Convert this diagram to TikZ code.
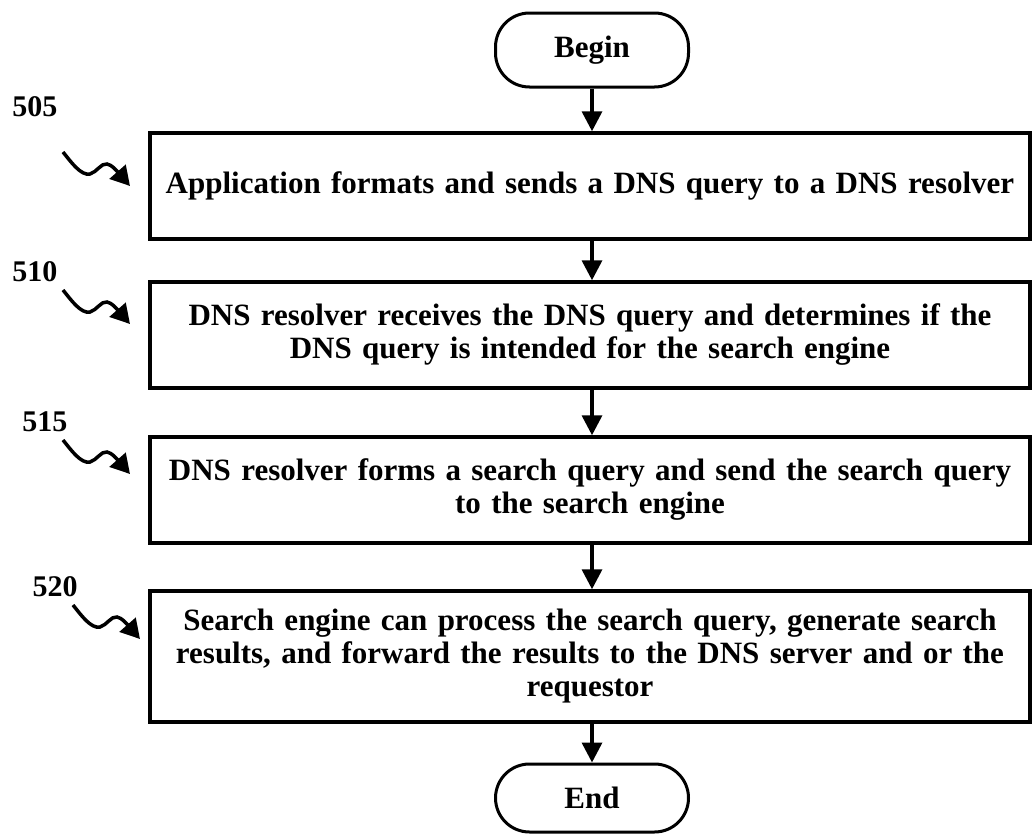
\documentclass[tikz,border=0pt]{standalone}
\usepackage{fontspec}
\setmainfont{Liberation Serif}
\usetikzlibrary{arrows.meta}
\tikzset{
  stepbox/.style={draw, line width=3.5pt, minimum width=880pt, text width=860pt, align=center, inner sep=0pt,
    font=\bfseries\fontsize{31}{33}\selectfont},
  termbox/.style={draw, line width=3pt, rounded corners=34pt, minimum width=193pt, inner sep=0pt,
    font=\bfseries\fontsize{31}{33}\selectfont},
  reflabel/.style={font=\bfseries\fontsize{30}{33}\selectfont, inner sep=0pt},
  arr/.style={line width=3.5pt, -{Triangle[length=20pt,width=20pt]}},
  squig/.style={line width=3.5pt, -{Triangle[length=19pt,width=21pt]}},
  squiggle/.pic={\draw[squig] (0,0) .. controls (8,10) and (18,24) .. (27,22)
      .. controls (34,20) and (38,11) .. (44,12) .. controls (49,13) and (53,18) .. (67,34);}
}
\begin{document}
\begin{tikzpicture}[x=1pt,y=-1pt]
\useasboundingbox (0,0) rectangle (1034,835);
\node[termbox, minimum height=74pt] (begin) at (592,50) {Begin};
\node[stepbox, minimum height=106pt] (b1) at (590,186) {Application formats and sends a DNS query to a DNS resolver};
\node[stepbox, minimum height=106pt] (b2) at (590,335) {DNS resolver receives the DNS query and determines if the\\DNS query is intended for the search engine};
\node[stepbox, minimum height=106pt] (b3) at (590,490) {DNS resolver forms a search query and send the search query\\to the search engine};
\node[stepbox, minimum height=131pt] (b4) at (590,656.5) {Search engine can process the search query, generate search\\results, and forward the results to the DNS server and or the\\requestor};
\node[termbox, minimum height=68pt] (end) at (592,798) {End};
\draw[arr] (begin.south) -- (begin.south |- b1.north);
\draw[arr] (begin.south |- b1.south) -- (begin.south |- b2.north);
\draw[arr] (begin.south |- b2.south) -- (begin.south |- b3.north);
\draw[arr] (begin.south |- b3.south) -- (begin.south |- b4.north);
\draw[arr] (begin.south |- b4.south) -- (end.north);
\node[reflabel] (l505) at (35,107) {505};
\node[reflabel] (l510) at (35,272) {510};
\node[reflabel] (l515) at (45,422) {515};
\node[reflabel] (l520) at (55,587) {520};
\pic at (63,152) {squiggle};
\pic at (63,290) {squiggle};
\pic at (63,440) {squiggle};
\pic at (73,605) {squiggle};
\end{tikzpicture}
\end{document}
